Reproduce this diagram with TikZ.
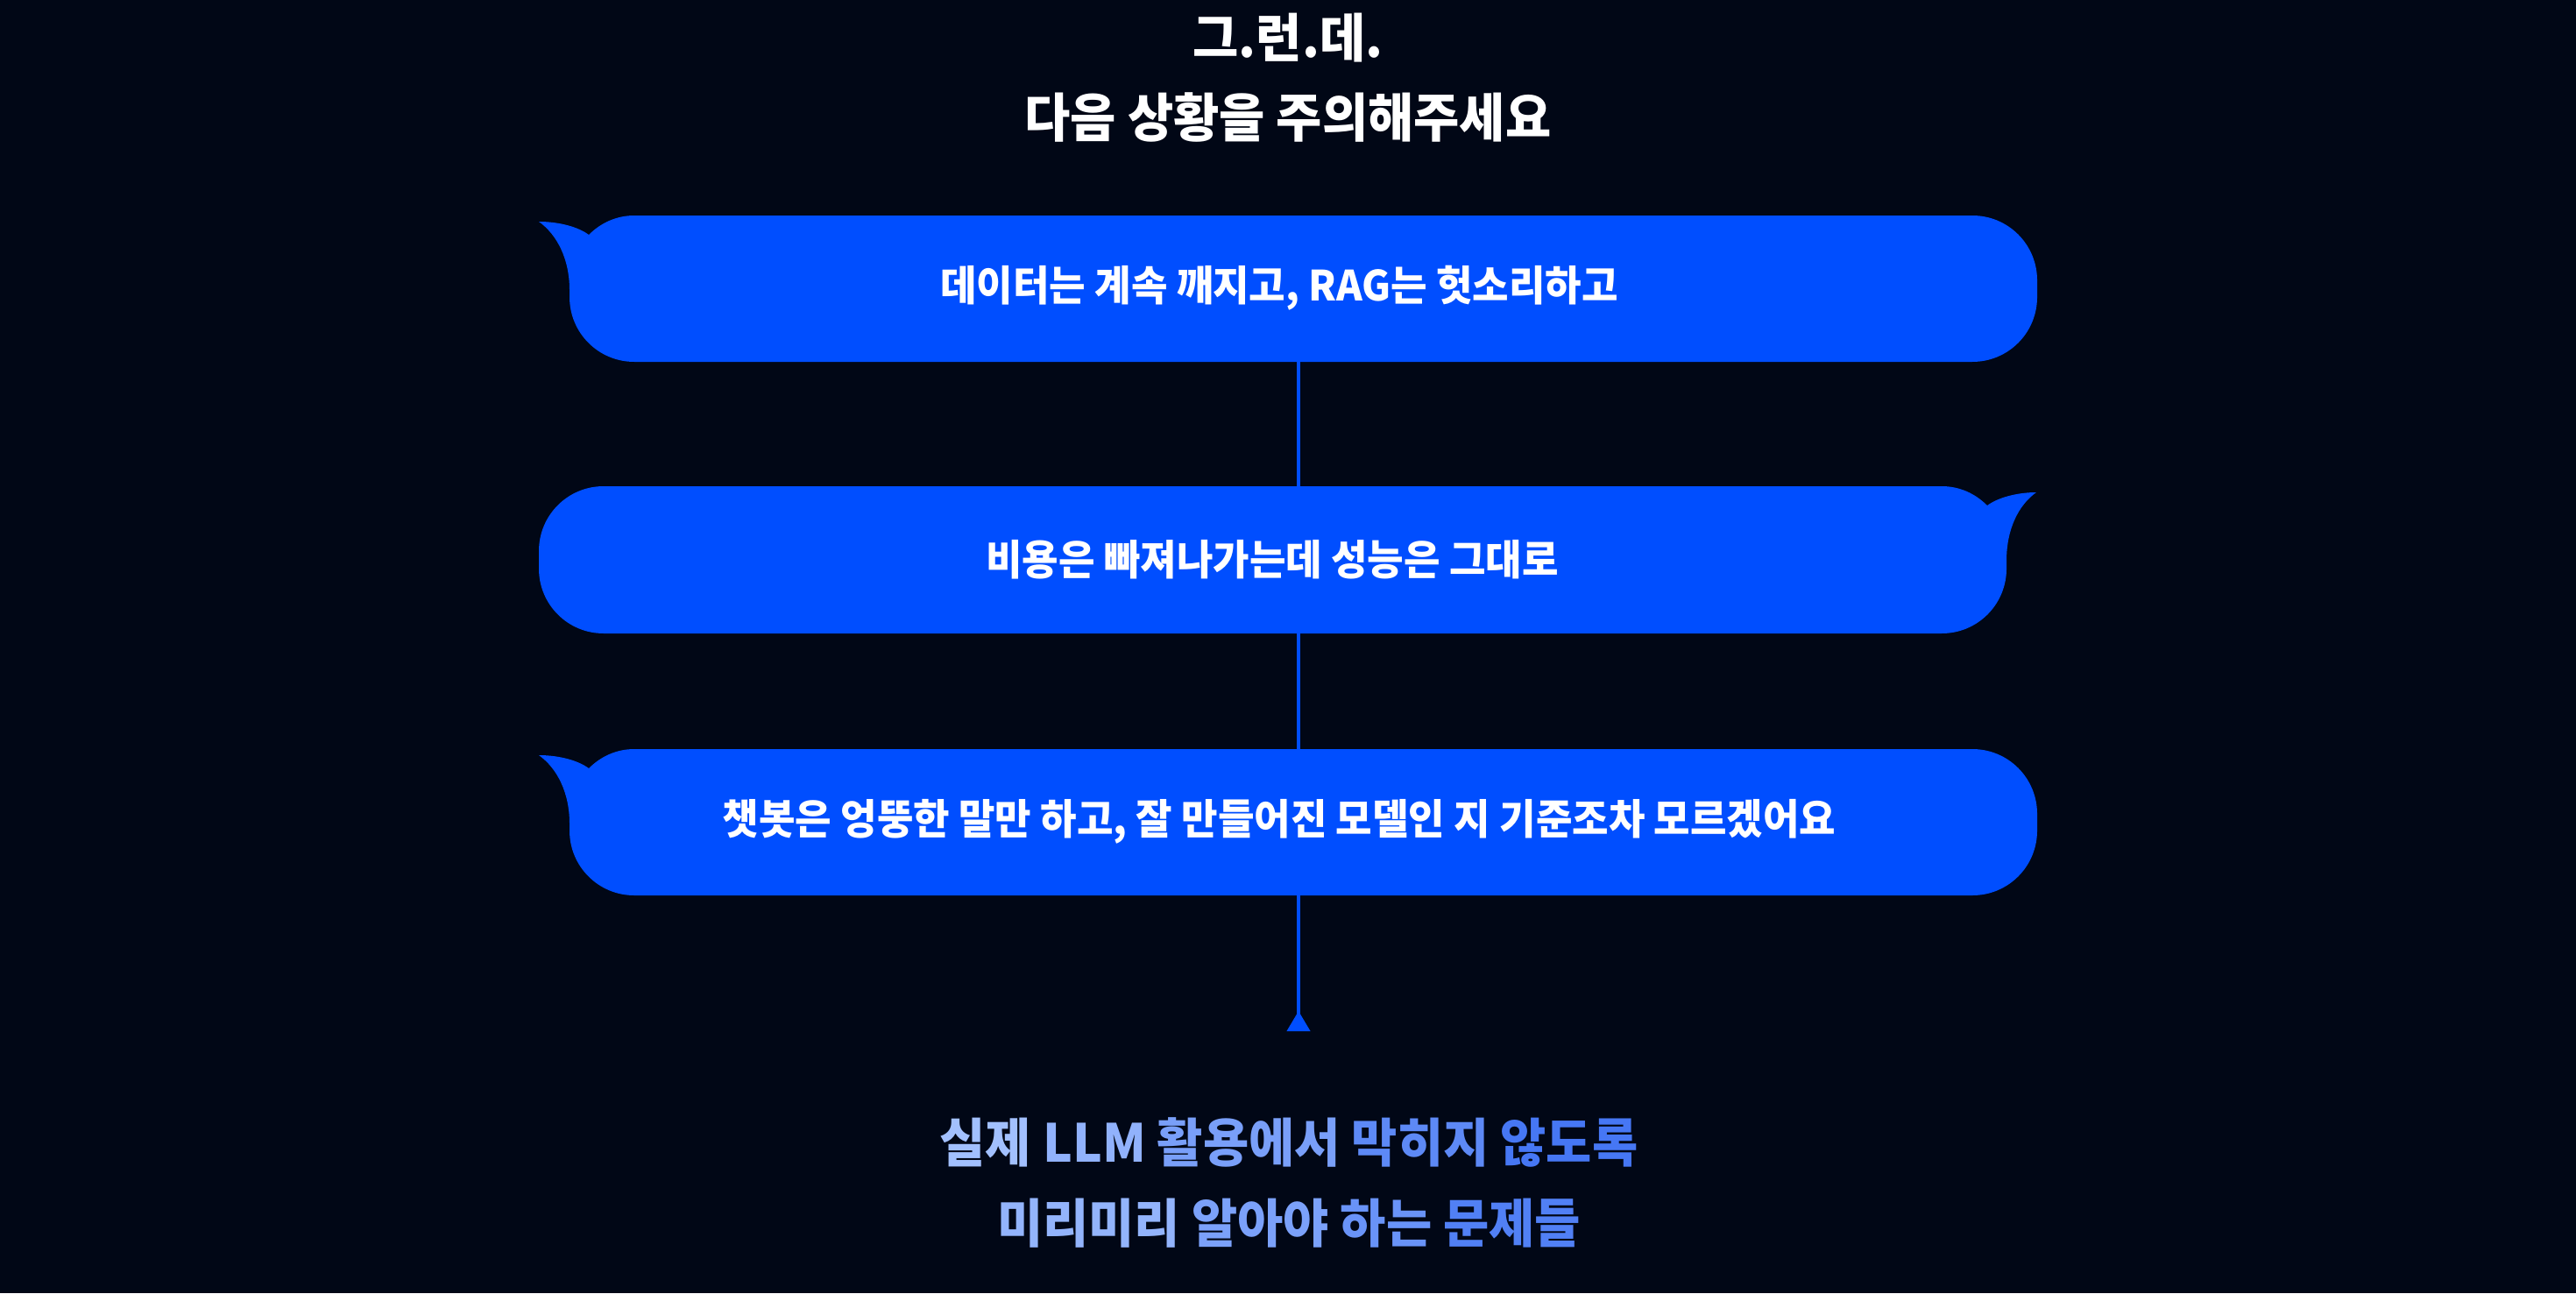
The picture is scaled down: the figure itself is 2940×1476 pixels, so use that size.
\documentclass[tikz,border=0pt]{standalone}
\usepackage{fontspec}
\newfontfamily\krfont{Noto Sans CJK KR}[FakeStretch=0.95]
\usetikzlibrary{arrows.meta, positioning}
\definecolor{bgnavy}{RGB}{1,7,22}
\definecolor{bubbleblue}{RGB}{0,78,255}
\definecolor{hintlight}{RGB}{168,196,255}
\definecolor{hintdeep}{RGB}{58,110,242}
\tikzset{
    heading/.style={text=white, font=\krfont\bfseries\fontsize{17}{25.9}\selectfont, align=center},
    msgtext/.style={text=white, font=\krfont\bfseries\fontsize{13.5}{16}\selectfont},
    closing/.style={font=\krfont\bfseries\fontsize{17}{26.2}\selectfont, align=center},
    bubble/.style={fill=bubbleblue},
    connector/.style={draw=bubbleblue, line width=1.15pt, -{Triangle[reversed, width=0.26cm, length=0.23cm]}}
}

\begin{document}
\begin{tikzpicture}[x=0.01cm, y=-0.01cm]

    % Background
    \fill[bgnavy] (0,0) rectangle (2940,1476);
    \useasboundingbox (0,0) rectangle (2940,1476);

    % Heading
    \node (heading) [heading] at (1470,89) {그.런.데.\\다음 상황을 주의해주세요};

    % Timeline line behind the bubbles
    \coordinate (msg1_foot) at (1482,413);
    \coordinate (stopper) at (1482,1177);
    \draw [connector] (msg1_foot) -- (stopper);

    % Bubble 1 (tail on the left)
    \fill[bubble] (615,253) .. controls (636,268) and (650,296) .. (650,331) -- (650,339)
        .. controls (650,380) and (683,413) .. (724,413) -- (2251,413)
        .. controls (2292,413) and (2325,380) .. (2325,339) -- (2325,320)
        .. controls (2325,279) and (2292,246) .. (2251,246) -- (724,246)
        .. controls (704,246) and (686,254) .. (672,268)
        .. controls (660,259) and (638,253) .. cycle;

    % Bubble 2 (tail on the right)
    \fill[bubble] (2324,562) .. controls (2303,577) and (2290,605) .. (2290,640) -- (2290,649)
        .. controls (2290,690) and (2257,723) .. (2216,723) -- (689,723)
        .. controls (648,723) and (615,690) .. (615,649) -- (615,629)
        .. controls (615,588) and (648,555) .. (689,555) -- (2216,555)
        .. controls (2236,555) and (2254,563) .. (2268,577)
        .. controls (2280,568) and (2302,562) .. cycle;

    % Bubble 3 (tail on the left)
    \fill[bubble] (615,862) .. controls (636,877) and (650,905) .. (650,940) -- (650,948)
        .. controls (650,989) and (683,1022) .. (724,1022) -- (2251,1022)
        .. controls (2292,1022) and (2325,989) .. (2325,948) -- (2325,929)
        .. controls (2325,888) and (2292,855) .. (2251,855) -- (724,855)
        .. controls (704,855) and (686,863) .. (672,877)
        .. controls (660,868) and (638,862) .. cycle;

    % Bubble texts
    \node (msg1) [msgtext] at (1460,329) {데이터는 계속 깨지고, RAG는 헛소리하고};
    \node (msg2) [msgtext] at (1452,639) {비용은 빠져나가는데 성능은 그대로};
    \node (msg3) [msgtext] at (1460,938) {챗봇은 엉뚱한 말만 하고, 잘 만들어진 모델인 지 기준조차 모르겠어요};

    % Closing lines
    \node (closing) [closing] at (1471,1350) {%
        {\color{hintdeep!5!hintlight}실제} {\color{hintdeep!21!hintlight}LLM} {\color{hintdeep!43!hintlight}활용에서} {\color{hintdeep!68!hintlight}막히지} {\color{hintdeep!89!hintlight}않도록}\\
        {\color{hintdeep!19!hintlight}미리미리} {\color{hintdeep!41!hintlight}알아야} {\color{hintdeep!57!hintlight}하는} {\color{hintdeep!79!hintlight}문제들}};

\end{tikzpicture}
\end{document}
